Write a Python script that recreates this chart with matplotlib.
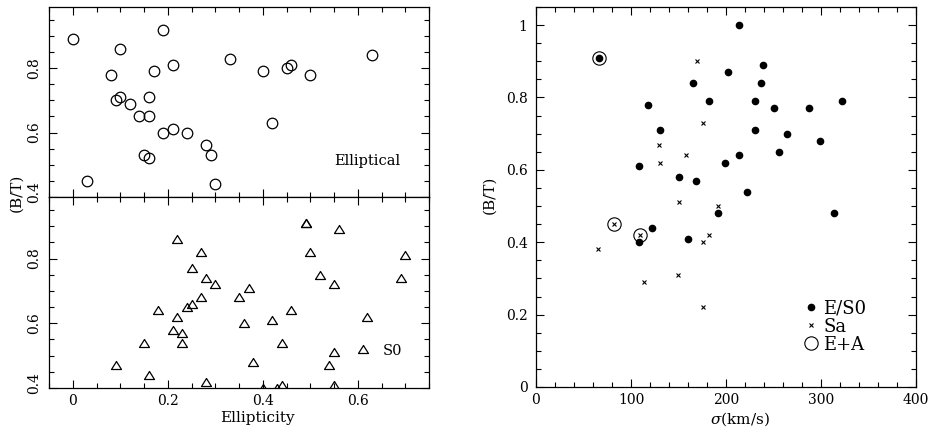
import matplotlib
matplotlib.use("Agg")
import matplotlib.pyplot as plt
from matplotlib.lines import Line2D
from matplotlib.path import Path
from matplotlib.ticker import MultipleLocator, FuncFormatter
from matplotlib.transforms import ScaledTranslation

plt.rcParams['font.family'] = ['DejaVu Serif']
plt.rcParams['mathtext.fontset'] = 'dejavuserif'

# ---- Data: Elliptical (ellipticity, B/T)
ell_e = [0.00, 0.03, 0.10, 0.08, 0.09, 0.10, 0.12, 0.14, 0.16, 0.16, 0.17, 0.19, 0.21, 0.19,
         0.21, 0.24, 0.15, 0.16, 0.28, 0.29, 0.30, 0.33, 0.40, 0.42, 0.45, 0.46, 0.50, 0.63]
ell_bt = [0.89, 0.45, 0.86, 0.78, 0.70, 0.71, 0.69, 0.65, 0.65, 0.71, 0.79, 0.92, 0.81, 0.60,
          0.61, 0.60, 0.53, 0.52, 0.56, 0.53, 0.44, 0.83, 0.79, 0.63, 0.80, 0.81, 0.78, 0.84]

# ---- Data: S0 (ellipticity, B/T)
s0_e = [0.09, 0.16, 0.15, 0.18, 0.21, 0.22, 0.23, 0.23, 0.24, 0.25, 0.22, 0.25, 0.27, 0.27,
        0.28, 0.30, 0.28, 0.35, 0.37, 0.36, 0.38, 0.40, 0.42, 0.44, 0.43, 0.44, 0.46, 0.49,
        0.49, 0.56, 0.50, 0.52, 0.55, 0.55, 0.54, 0.55, 0.61, 0.62, 0.69, 0.70]
s0_bt = [0.47, 0.44, 0.54, 0.64, 0.58, 0.62, 0.57, 0.54, 0.65, 0.66, 0.86, 0.77, 0.82, 0.68,
         0.74, 0.72, 0.42, 0.68, 0.71, 0.60, 0.48, 0.40, 0.61, 0.54, 0.40, 0.41, 0.64, 0.91,
         0.91, 0.89, 0.82, 0.75, 0.72, 0.51, 0.47, 0.41, 0.52, 0.62, 0.74, 0.81]

# ---- Data: right panel (sigma km/s, B/T)
es0_sigma = [66, 118, 131, 108, 150, 168, 165, 182, 202, 214, 199, 214, 222, 192, 230, 230,
             237, 239, 250, 264, 256, 287, 299, 322, 314, 122, 108, 160]
es0_bt = [0.91, 0.78, 0.71, 0.61, 0.58, 0.57, 0.84, 0.79, 0.87, 1.00, 0.62, 0.64, 0.54, 0.48,
          0.79, 0.71, 0.84, 0.89, 0.77, 0.70, 0.65, 0.77, 0.68, 0.79, 0.48, 0.44, 0.40, 0.41]

sa_sigma = [169, 176, 129, 130, 158, 151, 192, 82, 109, 65, 114, 149, 176, 182, 176]
sa_bt = [0.90, 0.73, 0.67, 0.62, 0.64, 0.51, 0.50, 0.45, 0.42, 0.38, 0.29, 0.31, 0.40, 0.42, 0.22]

ea_sigma = [66, 82, 109]
ea_bt = [0.91, 0.45, 0.42]

legend_labels = ['E/S0', 'Sa', 'E+A']

# ---- Figure
W, H = 932, 428
fig = plt.figure(figsize=(W / 100, H / 100), dpi=100)

def frac(x0, y0, x1, y1):
    return [x0 / W, 1 - y1 / H, (x1 - x0) / W, (y1 - y0) / H]

ax_top = fig.add_axes(frac(49, 7, 429, 197))
ax_bot = fig.add_axes(frac(49, 197, 429, 388), sharex=ax_top)
ax_r = fig.add_axes(frac(536, 7, 916, 387))

fmt = FuncFormatter(lambda v, p: f"{v:g}")
tick_fs = 10

def style(ax):
    for s in ax.spines.values():
        s.set_linewidth(0.9)
    ax.tick_params(which='both', direction='in', top=True, right=True, width=0.8,
                   labelsize=tick_fs)
    ax.tick_params(axis='y', pad=6)
    ax.tick_params(axis='x', pad=4)
    ax.tick_params(which='major', length=6)
    ax.tick_params(which='minor', length=3.3)

tri = Path([(0, 0.8), (-1, -0.8), (1, -0.8), (0, 0.8)],
           [Path.MOVETO, Path.LINETO, Path.LINETO, Path.CLOSEPOLY])

# top-left
ax_top.plot(ell_e, ell_bt, linestyle='none', marker='o', markersize=7.6,
            markerfacecolor='none', markeredgecolor='black', markeredgewidth=0.9)
ax_top.text(0.75, 0.19, 'Elliptical', transform=ax_top.transAxes, fontsize=10.5,
            ha='left', va='center')
# bottom-left
ax_bot.plot(s0_e, s0_bt, linestyle='none', marker=tri, markersize=7.2,
            markerfacecolor='none', markeredgecolor='black', markeredgewidth=0.9)
ax_bot.text(0.879, 0.194, 'S0', transform=ax_bot.transAxes, fontsize=10.5,
            ha='left', va='center')

for ax in (ax_top, ax_bot):
    style(ax)
    ax.set_xlim(-0.05, 0.75)
    ax.set_ylim(0.4, 0.99)
    ax.xaxis.set_major_locator(MultipleLocator(0.2))
    ax.xaxis.set_minor_locator(MultipleLocator(0.05))
    ax.yaxis.set_major_locator(MultipleLocator(0.2))
    ax.yaxis.set_minor_locator(MultipleLocator(0.05))
    ax.xaxis.set_major_formatter(fmt)
    ax.yaxis.set_major_formatter(fmt)
    for lab in ax.get_yticklabels():
        lab.set_rotation(90)
        lab.set_verticalalignment('center')
        lab.set_horizontalalignment('right')

ax_top.tick_params(axis='x', labelbottom=False)
ax_bot.set_xlabel('Ellipticity', fontsize=11)
ax_bot.xaxis.set_label_coords(0.549, -0.118)

fig.canvas.draw()
for ax, dy in ((ax_top, 5), (ax_bot, 5)):
    for lab in ax.get_yticklabels():
        if lab.get_text() == '0.4':
            lab.set_transform(lab.get_transform() + ScaledTranslation(0, dy / 100, fig.dpi_scale_trans))

fig.text(16 / W, 1 - 193 / H, '(B/T)', rotation=90, fontsize=11, ha='center', va='center')

# right panel
style(ax_r)
ax_r.plot(ea_sigma, ea_bt, linestyle='none', marker='o', markersize=9.6,
          markerfacecolor='none', markeredgecolor='black', markeredgewidth=0.8)
ax_r.plot(es0_sigma, es0_bt, linestyle='none', marker='o', markersize=4.5,
          markerfacecolor='black', markeredgecolor='black')
ax_r.plot(sa_sigma, sa_bt, linestyle='none', marker='x', markersize=3.3,
          markeredgecolor='black', markeredgewidth=0.8)
ax_r.set_xlim(0, 400)
ax_r.set_ylim(0, 1.05)
ax_r.xaxis.set_major_locator(MultipleLocator(100))
ax_r.xaxis.set_minor_locator(MultipleLocator(20))
ax_r.yaxis.set_major_locator(MultipleLocator(0.2))
ax_r.yaxis.set_minor_locator(MultipleLocator(0.05))
ax_r.xaxis.set_major_formatter(fmt)
ax_r.yaxis.set_major_formatter(fmt)
ax_r.set_xlabel(r'$\sigma$(km/s)', fontsize=11)
ax_r.xaxis.set_label_coords(0.537, -0.061)
ax_r.set_ylabel('(B/T)', fontsize=11)
ax_r.yaxis.set_label_coords(-0.103, 0.505)

handles = [
    Line2D([], [], linestyle='none', marker='o', markersize=4.5, color='black'),
    Line2D([], [], linestyle='none', marker='x', markersize=3.3, color='black', markeredgewidth=0.8),
    Line2D([], [], linestyle='none', marker='o', markersize=9.6, markerfacecolor='none',
           markeredgecolor='black', markeredgewidth=0.8),
]
ax_r.legend(handles, legend_labels, loc='upper left', bbox_to_anchor=(0.701, 0.2295),
            frameon=False, prop={'size': 13}, handlelength=1.0, handletextpad=0.15,
            labelspacing=0.0, borderpad=0, borderaxespad=0)

fig.savefig('out.png', dpi=100)
